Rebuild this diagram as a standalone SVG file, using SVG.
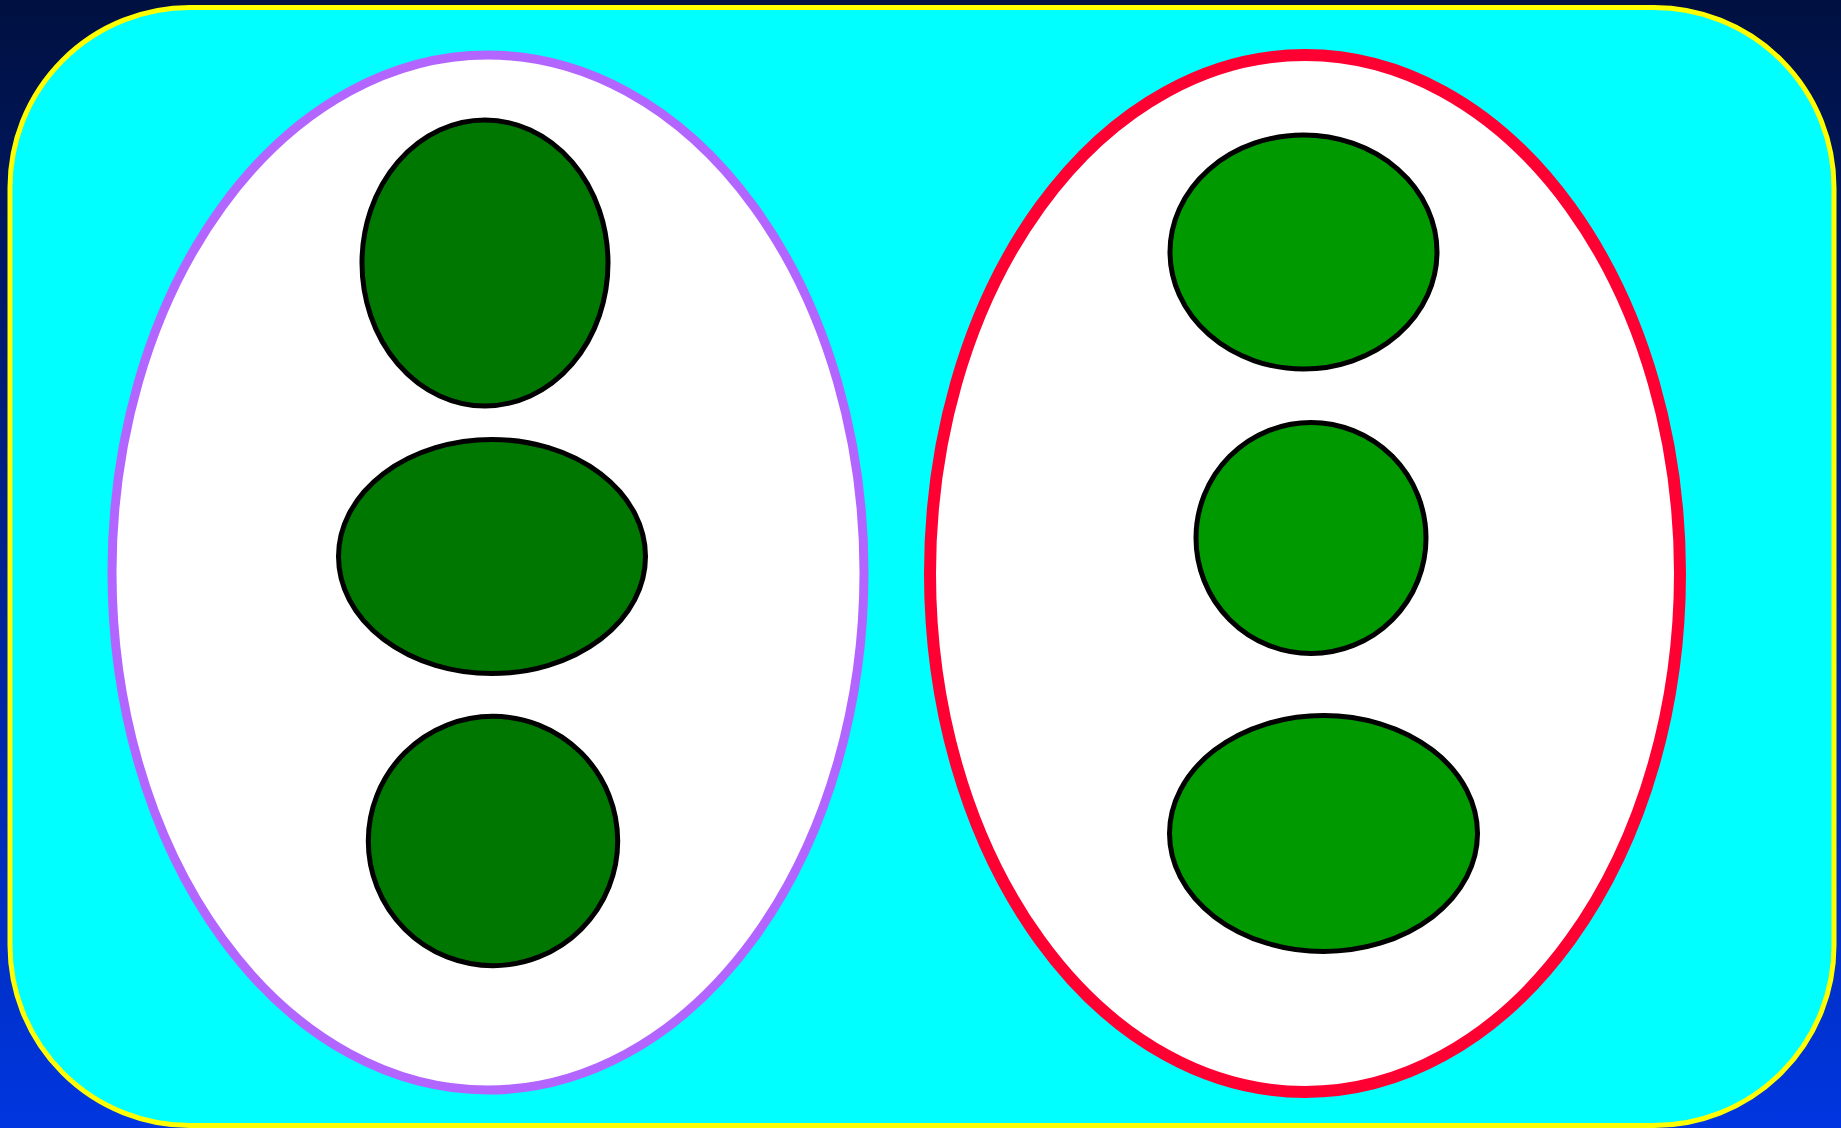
<svg xmlns="http://www.w3.org/2000/svg" width="1841" height="1128" viewBox="0 0 1841 1128">
<defs>
<linearGradient id="bg" x1="0" y1="0" x2="0" y2="1">
<stop offset="0" stop-color="#001040"/>
<stop offset="1" stop-color="#0036e0"/>
</linearGradient>
</defs>
<style>
.leaf1{fill:#007700;stroke:#000;stroke-width:5}
.leaf2{fill:#009900;stroke:#000;stroke-width:5}
.pod{fill:#fff}
</style>
<rect x="0" y="0" width="1841" height="1128" fill="url(#bg)"/>
<rect id="frame" x="10" y="7.5" width="1824" height="1118" rx="180" ry="180" fill="#00ffff" stroke="#ffff00" stroke-width="5"/>
<g id="podA">
<ellipse class="pod" cx="488" cy="572.5" rx="376" ry="517.5" stroke="#b366ff" stroke-width="9"/>
</g>
<g id="podB">
<ellipse class="pod" cx="1305" cy="573.5" rx="375" ry="518.5" stroke="#ff0033" stroke-width="12"/>
</g>
<g id="a1"><ellipse class="leaf1" cx="485" cy="263" rx="123" ry="143"/></g>
<g id="a2"><ellipse class="leaf1" cx="492" cy="556.5" rx="153.5" ry="117"/></g>
<g id="a3"><circle class="leaf1" cx="493" cy="841" r="124.7"/></g>
<g id="b1"><ellipse class="leaf2" cx="1303.5" cy="252" rx="133.5" ry="117"/></g>
<g id="b2"><ellipse class="leaf2" cx="1311" cy="538" rx="115" ry="115.5"/></g>
<g id="b3"><ellipse class="leaf2" cx="1323.5" cy="833.5" rx="154" ry="118"/></g>
<g id="connectors"/>
</svg>
